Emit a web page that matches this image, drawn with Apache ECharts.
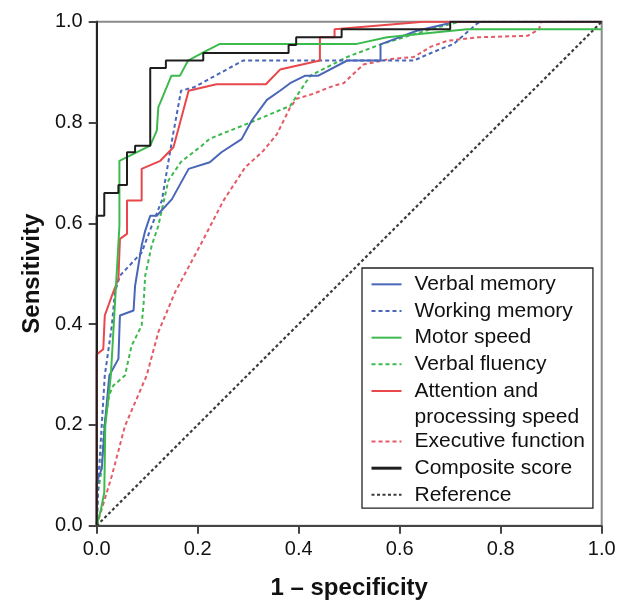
<!DOCTYPE html>
<html>
<head>
<meta charset="utf-8">
<script src="https://cdn.jsdelivr.net/npm/echarts@6/dist/echarts.min.js"></script>
<style>
html,body{margin:0;padding:0;background:#fff;}
#chart{width:626px;height:601px;}
</style>
</head>
<body>
<div id="chart"></div>
<script>
// ---- Data (x = 1 - specificity, y = sensitivity) ----
const xTicks = [0.0, 0.2, 0.4, 0.6, 0.8, 1.0];
const yTicks = [0.0, 0.2, 0.4, 0.6, 0.8, 1.0];

const verbalMemory = [[0,0],[0,0.086],[0.01,0.113],[0.016,0.2],[0.025,0.298],[0.043,0.331],[0.046,0.417],[0.073,0.427],[0.076,0.476],[0.089,0.556],[0.096,0.585],[0.106,0.615],[0.119,0.615],[0.128,0.625],[0.149,0.648],[0.182,0.708],[0.224,0.721],[0.247,0.741],[0.287,0.767],[0.307,0.804],[0.337,0.845],[0.363,0.863],[0.383,0.878],[0.413,0.893],[0.439,0.893],[0.496,0.923],[0.562,0.923],[0.562,0.955],[0.634,0.982],[0.694,0.996],[0.70,1.0],[1,1]];

const workingMemory = [[0,0],[0.004,0.1],[0.01,0.2],[0.016,0.298],[0.03,0.397],[0.036,0.463],[0.046,0.496],[0.089,0.542],[0.109,0.595],[0.129,0.645],[0.149,0.764],[0.167,0.863],[0.193,0.87],[0.29,0.923],[0.628,0.923],[0.667,0.94],[0.707,0.956],[0.753,0.996],[0.76,1.0],[1,1]];

const motorSpeed = [[0,0],[0.008,0.03],[0.015,0.066],[0.017,0.198],[0.028,0.298],[0.045,0.595],[0.045,0.724],[0.106,0.754],[0.119,0.784],[0.122,0.83],[0.148,0.893],[0.165,0.893],[0.181,0.923],[0.211,0.939],[0.244,0.956],[0.515,0.956],[0.575,0.969],[0.733,0.985],[1,0.985]];

const verbalFluency = [[0,0],[0.003,0.07],[0.008,0.1],[0.015,0.2],[0.025,0.26],[0.033,0.278],[0.056,0.298],[0.069,0.357],[0.089,0.397],[0.093,0.443],[0.096,0.496],[0.109,0.556],[0.122,0.595],[0.142,0.685],[0.167,0.722],[0.208,0.754],[0.224,0.768],[0.297,0.797],[0.383,0.833],[0.423,0.893],[0.496,0.93],[0.562,0.955],[0.661,0.985],[0.72,1.0],[1,1]];

const attention = [[0,0],[0,0.34],[0.013,0.35],[0.016,0.417],[0.03,0.456],[0.043,0.49],[0.046,0.569],[0.06,0.579],[0.06,0.645],[0.089,0.645],[0.089,0.708],[0.126,0.724],[0.152,0.751],[0.182,0.863],[0.237,0.876],[0.335,0.876],[0.363,0.905],[0.442,0.923],[0.442,0.969],[0.471,0.969],[0.471,0.985],[0.647,1.0],[1,1]];

const executive = [[0,0],[0.03,0.099],[0.056,0.198],[0.099,0.298],[0.122,0.384],[0.155,0.463],[0.208,0.562],[0.251,0.645],[0.294,0.711],[0.33,0.744],[0.357,0.777],[0.383,0.83],[0.396,0.847],[0.429,0.857],[0.469,0.873],[0.489,0.878],[0.528,0.915],[0.581,0.926],[0.628,0.93],[0.661,0.95],[0.694,0.962],[0.753,0.969],[0.853,0.972],[0.876,0.985],[0.88,1.0],[1,1]];

const composite = [[0,0],[0,0.615],[0.015,0.615],[0.015,0.66],[0.043,0.66],[0.043,0.676],[0.06,0.676],[0.06,0.741],[0.076,0.741],[0.076,0.754],[0.106,0.754],[0.106,0.908],[0.137,0.908],[0.137,0.923],[0.211,0.923],[0.211,0.938],[0.38,0.938],[0.38,0.954],[0.395,0.954],[0.395,0.969],[0.485,0.969],[0.485,0.985],[0.70,0.985],[0.70,1.0],[1,1]];

const reference = [[0,0],[1,1]];

const names = ['Verbal memory','Working memory','Motor speed','Verbal fluency','Attention and processing speed','Executive function','Composite score','Reference'];

// ---- Chart ----
const FONT = 'Liberation Sans, Arial, Helvetica, sans-serif';
const BLUE = '#4a66b8', GREEN = '#3dba4e', RED = '#e8474b', RED_D = '#e45a66', BLACK = '#1e1e1e';
const LH = 26.67;

function mk(name, data, color, type, width, z) {
  return {
    name: name, type: 'line', data: data, symbol: 'none', silent: true, z: z,
    lineStyle: { color: color, width: width, type: type },
    itemStyle: { color: color }
  };
}

const chart = echarts.init(document.getElementById('chart'), null, {renderer: 'canvas'});
chart.setOption({
  animation: false,
  backgroundColor: '#fff',
  grid: { left: 96.7, right: 24.3, top: 21.7, bottom: 75.3, containLabel: false, outerBoundsMode: 'none',
          show: true, borderColor: '#8a8a8a', borderWidth: 2, backgroundColor: 'transparent' },
  xAxis: {
    type: 'value', min: xTicks[0], max: xTicks[xTicks.length-1], interval: 0.2,
    name: '1 \u2013 specificity', nameLocation: 'middle', nameGap: 51,
    nameTextStyle: { fontFamily: FONT, fontSize: 24, fontWeight: 'bold', color: '#111' },
    axisLine: { lineStyle: { color: '#444', width: 2 } },
    axisTick: { show: true, inside: false, length: 8, lineStyle: { color: '#444', width: 2 } },
    axisLabel: { fontFamily: FONT, fontSize: 20, color: '#111', margin: 14, formatter: v => v.toFixed(1) },
    splitLine: { show: false }
  },
  yAxis: {
    type: 'value', min: yTicks[0], max: yTicks[yTicks.length-1], interval: 0.2,
    name: 'Sensitivity', nameLocation: 'middle', nameGap: 52,
    nameTextStyle: { fontFamily: FONT, fontSize: 24, fontWeight: 'bold', color: '#111' },
    axisLine: { lineStyle: { color: '#222', width: 2 } },
    axisTick: { show: true, inside: false, length: 8, lineStyle: { color: '#444', width: 2 } },
    axisLabel: { fontFamily: FONT, fontSize: 20, color: '#111', margin: 14, formatter: v => v.toFixed(1) },
    splitLine: { show: false }
  },
  legend: {
    orient: 'vertical', left: 362, top: 268,
    padding: [3, 8, 0, 8],
    backgroundColor: '#fff', borderColor: '#222', borderWidth: 1.3, borderRadius: 0,
    itemWidth: 30, itemHeight: 18, itemGap: 0,
    selectedMode: false,
    itemStyle: { opacity: 0 },
    textStyle: {
      fontFamily: FONT, fontSize: 21, color: '#111', lineHeight: LH, padding: [0, 0, 0, 8],
      rich: { a: { fontFamily: FONT, fontSize: 21, color: '#111', lineHeight: LH } }
    },
    formatter: function (n) { return n === names[4] ? '{a|Attention and}\n{a|processing speed}' : n; },
    data: [
      names[0], names[1], names[2], names[3],
      { name: names[4], textStyle: { padding: [0, 0, -LH, 8] } },
      names[5],
      { name: names[6], lineStyle: { width: 3 } },
      names[7]
    ]
  },
  series: [
    mk(names[7], reference, '#3a3a3a', [3, 2.5], 2.2, 1),
    mk(names[5], executive, RED_D, [4, 3], 2, 2),
    mk(names[3], verbalFluency, GREEN, [4, 3], 2, 3),
    mk(names[1], workingMemory, BLUE, [4, 3], 2, 4),
    mk(names[0], verbalMemory, BLUE, 'solid', 2, 5),
    mk(names[4], attention, RED, 'solid', 2, 6),
    mk(names[2], motorSpeed, GREEN, 'solid', 2, 7),
    mk(names[6], composite, BLACK, 'solid', 2, 8)
  ]
});
</script>
</body>
</html>
